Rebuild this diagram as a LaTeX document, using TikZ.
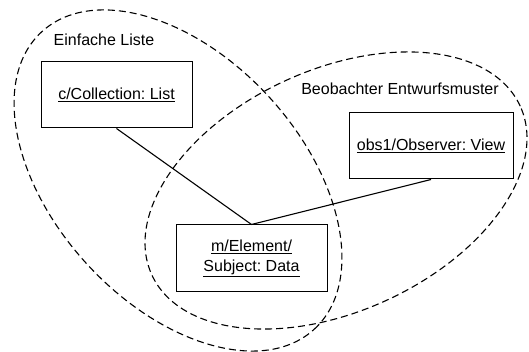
\documentclass[tikz,border=0pt]{standalone}
\usepackage{fontspec}
\setmainfont{Liberation Sans}
\frenchspacing
\begin{document}
\begin{tikzpicture}[x=1pt,y=1pt,
  objbox/.style={draw, line width=1pt, minimum width=#1, minimum height=66pt,
                 inner sep=0pt, align=center, font=\fontsize{16}{20}\selectfont},
  objbox/.default=151pt,
  region/.style={draw, line width=1.1pt, dash pattern=on 7pt off 4pt},
  regionlabel/.style={font=\fontsize{16}{19}\selectfont, inner sep=0pt},
  link/.style={draw, line width=1.1pt}]
\useasboundingbox (0,0) rectangle (529,352);

% the two overlapping groupings
\draw[region, rotate around={-47.5:(178,171.5)}]
  (178,171.5) ellipse [x radius=201.7pt, y radius=123.6pt];
\draw[region, rotate around={24.6:(336,161.5)}]
  (336,161.5) ellipse [x radius=202.6pt, y radius=120.9pt];

% grouping titles
\node[regionlabel] (lbllist) at (104,312) {Einfache Liste};
\node[regionlabel] (lblobs) at (400,263) {Beobachter Entwurfsmuster};

% objects
\node[objbox] (coll) at (116.5,257) {\underline{c/Collection: List}};
\node[objbox=164pt] (obs) at (431,206) {\underline{obs1/Observer: View}};
\node[objbox, minimum height=67pt] (elem) at (251.5,93.5)
  {\underline{m/Element/}\\\underline{Subject: Data}};

% links
\draw[link] (coll.south) -- (elem.north);
\draw[link] (elem.north) -- (obs.south);
\end{tikzpicture}
\end{document}
